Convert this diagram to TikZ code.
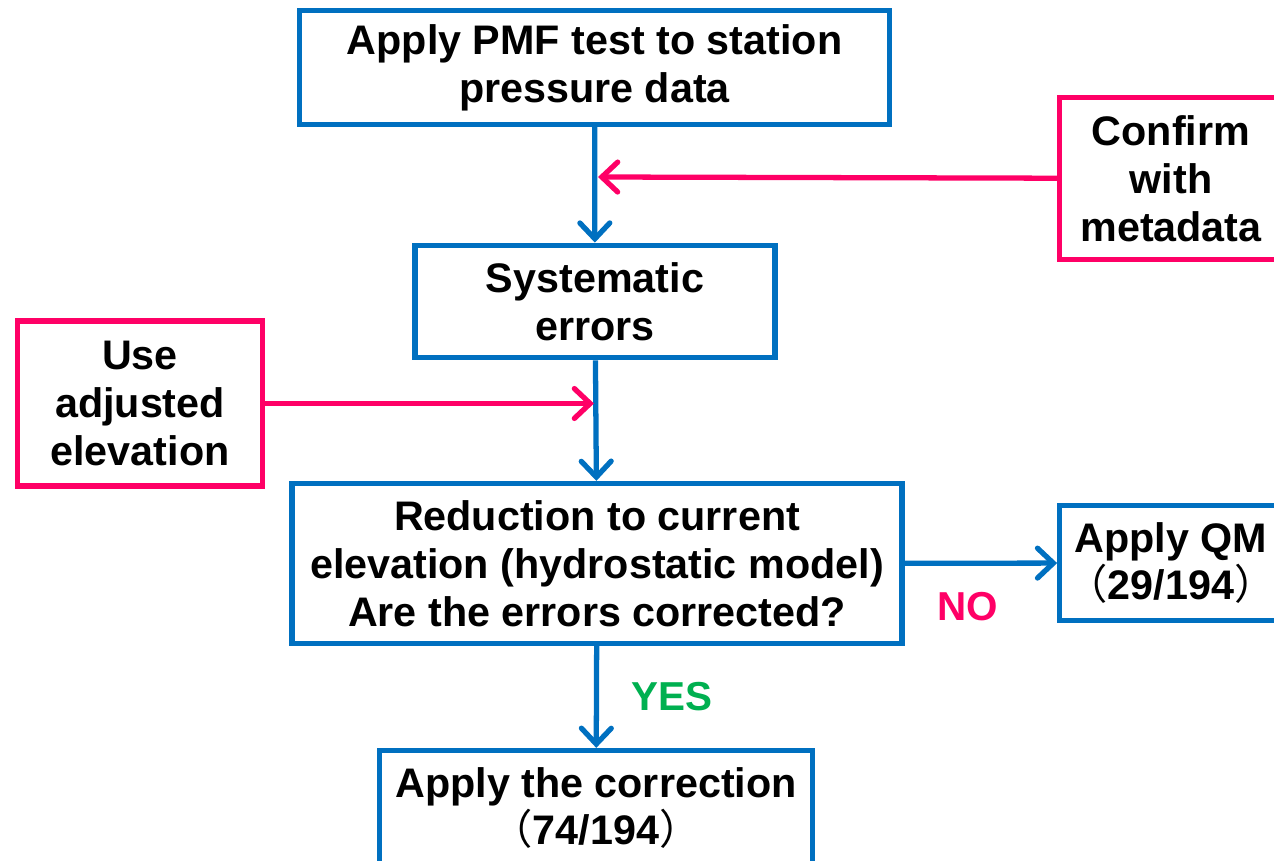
\documentclass[tikz,border=0pt]{standalone}
\usepackage{fontspec}
\setmainfont{Liberation Sans}
\newfontfamily\cjk{Noto Sans CJK SC}
\usetikzlibrary{arrows.meta}
\definecolor{boxblue}{RGB}{0,112,192}
\definecolor{notepink}{RGB}{255,0,102}
\definecolor{yesgreen}{RGB}{0,176,80}
\tikzset{
  stepbox/.style={draw=boxblue,line width=3pt,fill=white,align=center,
    font=\fontsize{23.5}{27.2}\selectfont\bfseries,inner sep=2pt},
  notebox/.style={stepbox,draw=notepink},
  flow/.style={boxblue,line width=3pt,-{Straight Barb[length=9pt,width=17pt,line cap=round]}},
  hint/.style={flow,notepink},
  answer/.style={font=\fontsize{23}{26}\selectfont\bfseries}
}
\newcommand{\fw}[1]{{\cjk\mdseries #1}}

\begin{document}
\begin{tikzpicture}[x=0.02cm,y=-0.02cm]
\useasboundingbox (0,0) rectangle (1274,861);

\node[stepbox,minimum width=11.8cm,minimum height=2.28cm] (pmf) at (594.5,67.5)
  {Apply PMF test to station\\ pressure data};
\node[notebox,minimum width=4.45cm,minimum height=3.25cm] (meta) at (1171,178.5)
  {Confirm\\ with\\ metadata};
\node[stepbox,minimum width=7.2cm,minimum height=2.25cm] (syst) at (595,301.5)
  {Systematic\\ errors};
\node[notebox,minimum width=4.9cm,minimum height=3.3cm] (elev) at (140,403.5)
  {Use\\ adjusted\\ elevation};
\node[stepbox,minimum width=12.2cm,minimum height=3.2cm] (reduce) at (597,563.5)
  {Reduction to current\\ elevation (hydrostatic model)\\ Are the errors corrected?};
\node[stepbox,minimum width=4.45cm,minimum height=2.3cm] (qm) at (1171,563)
  {Apply QM\\ \fw{（}29/194\fw{）}};
\node[stepbox,minimum width=8.65cm,minimum height=2.3cm] (corr) at (596,808)
  {Apply the correction\\ \fw{（}74/194\fw{）}};

\coordinate (metain) at (598,177);
\coordinate (elevin) at (594,403.5);

\draw[flow] (pmf) -- (syst);
\draw[flow] (syst) -- (reduce);
\draw[flow] (reduce) -- (qm);
\draw[flow] (reduce) -- (corr);
\draw[hint] (meta) -- (metain);
\draw[hint] (elev) -- (elevin);

\node[answer,text=notepink] (no) at (968,607) {NO};
\node[answer,text=yesgreen] (yes) at (672,697) {YES};

\end{tikzpicture}
\end{document}
